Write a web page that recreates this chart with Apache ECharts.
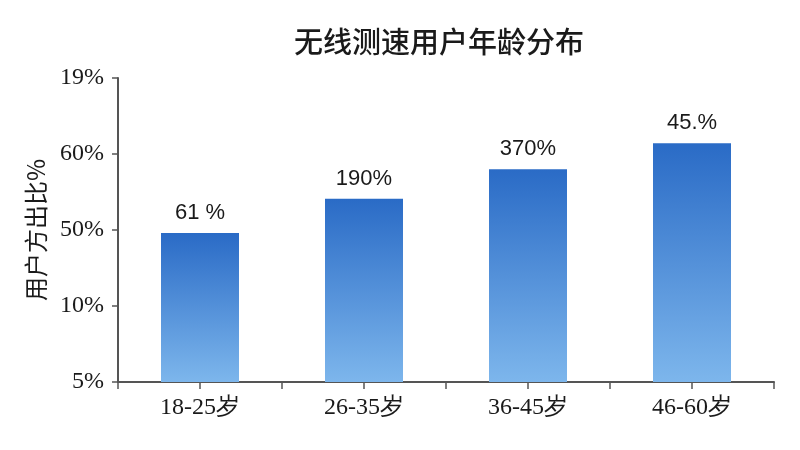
<!DOCTYPE html>
<html><head><meta charset="utf-8">
<script src="https://cdn.jsdelivr.net/npm/echarts@6/dist/echarts.min.js"></script>
<style>html,body{margin:0;padding:0;background:#fff}#c{width:800px;height:450px}</style>
</head><body><div id="c"></div>
<script>
const categories = ['18-25岁', '26-35岁', '36-45岁', '46-60岁'];
const values = [1.96, 2.41, 2.80, 3.14];
const barLabels = ['61 %', '190%', '370%', '45.%'];
const yTickLabels = ['5%', '10%', '50%', '60%', '19%'];
const titleText = '无线测速用户年龄分布';
const yName = '用户方出比%';
// half-category slots, used only to draw ticks at bar centres and between bars
const halfSlots = categories.flatMap(c => [c + 'a', c + 'b']);

const chart = echarts.init(document.getElementById('c'));
chart.setOption({
  backgroundColor: '#fff',
  title: { text: titleText, left: 434, textAlign: 'center', top: 22,
    textStyle: { fontSize: 29, fontWeight: 500, color: '#1a1a1a', fontFamily: 'Noto Sans CJK SC' } },
  grid: { left: 118, right: 26, top: 78, bottom: 68 },
  xAxis: [{ type: 'category', data: categories,
    axisLine: { lineStyle: { color: '#555', width: 2 } },
    axisTick: { show: false },
    axisLabel: { fontSize: 24, color: '#1a1a1a', margin: 14, fontFamily: 'Liberation Serif' } },
  { type: 'category', data: halfSlots, position: 'bottom',
    axisLine: { show: false },
    axisTick: { show: true, length: 7, interval: 0, lineStyle: { color: '#555', width: 1.5 } },
    axisLabel: { show: false } }],
  yAxis: { type: 'value', min: 0, max: 4, interval: 1,
    name: yName, nameLocation: 'middle', nameGap: 70, nameRotate: 90,
    nameTextStyle: { fontSize: 24, color: '#1a1a1a', fontFamily: 'Noto Sans CJK SC' },
    axisLine: { show: true, lineStyle: { color: '#555', width: 2 } },
    axisTick: { show: true, length: 6, lineStyle: { color: '#555', width: 1.5 } },
    splitLine: { show: false },
    axisLabel: { fontSize: 24, color: '#1a1a1a', margin: 14, fontFamily: 'Liberation Serif',
      formatter: v => yTickLabels[v] } },
  series: [{ type: 'bar', data: values, barWidth: 78, xAxisIndex: 0,
    itemStyle: { color: new echarts.graphic.LinearGradient(0, 0, 0, 1, [
      { offset: 0, color: '#2a6bc6' }, { offset: 1, color: '#7db6ec' } ]) },
    label: { show: true, position: 'top', distance: 9, fontSize: 22, color: '#1a1a1a',
      fontFamily: 'Liberation Sans', formatter: p => barLabels[p.dataIndex] } }]
});
</script></body></html>
